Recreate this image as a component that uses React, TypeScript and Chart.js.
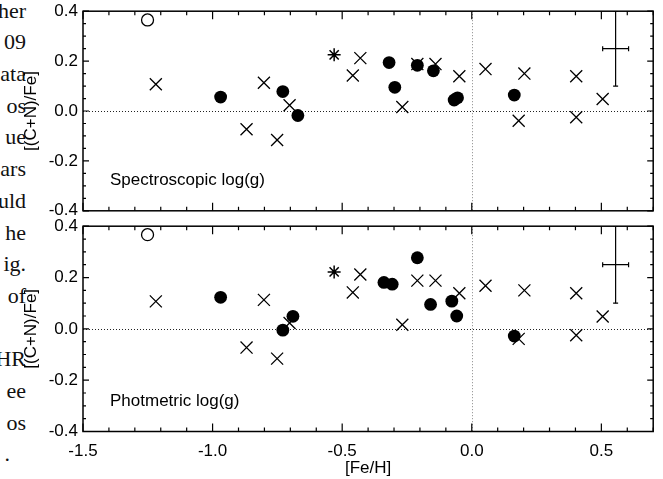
import React, { useEffect, useRef } from 'react';
import { Chart, registerables } from 'chart.js';

Chart.register(...registerables);

// ---------------- data ----------------
// literature stars (crosses) – identical in both panels
const crossFeH = [-1.219, -0.869, -0.802, -0.751, -0.703, -0.459, -0.430, -0.268, -0.210, -0.140, -0.048, 0.053, 0.181, 0.203, 0.403, 0.403, 0.505];
const crossCN = [0.107, -0.073, 0.113, -0.116, 0.023, 0.142, 0.212, 0.016, 0.188, 0.188, 0.139, 0.168, -0.039, 0.150, 0.139, -0.025, 0.048];

// this work, spectroscopic log(g)
const specFeH = [-0.969, -0.729, -0.671, -0.319, -0.297, -0.210, -0.148, -0.068, -0.055, 0.164];
const specCN = [0.056, 0.078, -0.018, 0.194, 0.095, 0.183, 0.161, 0.044, 0.053, 0.064];

// this work, photometric log(g)
const photFeH = [-0.969, -0.729, -0.690, -0.339, -0.307, -0.210, -0.159, -0.077, -0.058, 0.164];
const photCN = [0.123, -0.005, 0.049, 0.181, 0.174, 0.277, 0.095, 0.108, 0.050, -0.028];

// open circle
const openFeH = [-1.251];
const openCNSpec = [0.365];
const openCNPhot = [0.367];

// asterisk
const starFeH = [-0.531];
const starCNSpec = [0.225];
const starCNPhot = [0.222];

// typical error bar
const errFeH = [0.555];
const errCN = [0.25];
const errFeHSize = [0.05];
const errCNSize = [0.15];

// axes
const xMin = -1.5;
const xMax = 0.7;
const xStep = 0.5;
const xMinorPerMajor = 5;
const yMin = -0.4;
const yMax = 0.4;
const yStep = 0.2;
const yMinorPerMajor = 4;

const panelLabels = ['Spectroscopic log(g)', 'Photmetric log(g)'];
const xTitle = '[Fe/H]';
const yTitle = '[(C+N)/Fe]';

// fragments of the surrounding page text (clipped at the left edge)
const pageText = ['her', '09', 'ata', 'os', 'ue', 'ars', 'uld', 'he', 'ig.', 'of', '', 'HR', 'ee', 'os', '.'];

// ---------------- helpers ----------------
const SANS = "'Liberation Sans', Arial, Helvetica, sans-serif";
const FONT = { family: SANS, size: 17 };

const pts = (xs: number[], ys: number[]) => xs.map((x, i) => ({ x, y: ys[i] }));

const decorPlugin = {
  id: 'panelDecor',
  beforeDatasetsDraw(chart: any) {
    const { ctx, chartArea: a, scales } = chart;
    const xs = scales.x;
    const ys = scales.y;
    ctx.save();
    ctx.lineWidth = 1;
    ctx.setLineDash([1, 2]);
    const y0 = Math.round(ys.getPixelForValue(0)) + 0.5;
    ctx.strokeStyle = '#222';
    ctx.beginPath();
    ctx.moveTo(a.left, y0);
    ctx.lineTo(a.right, y0);
    ctx.stroke();
    const x0 = Math.round(xs.getPixelForValue(0)) + 0.5;
    ctx.strokeStyle = '#888';
    ctx.beginPath();
    ctx.moveTo(x0, a.top);
    ctx.lineTo(x0, a.bottom);
    ctx.stroke();
    ctx.restore();
  },
  afterDatasetsDraw(chart: any, _args: any, opts: any) {
    const { ctx, chartArea: a, scales } = chart;
    const xs = scales.x;
    const ys = scales.y;
    ctx.save();
    ctx.strokeStyle = '#000';
    ctx.lineWidth = 1.2;
    // ticks on all four sides, pointing inward
    const xMinor = xStep / xMinorPerMajor;
    const nx0 = Math.ceil(xMin / xMinor - 1e-6);
    const nx1 = Math.floor(xMax / xMinor + 1e-6);
    ctx.beginPath();
    for (let i = nx0; i <= nx1; i++) {
      const px = xs.getPixelForValue(i * xMinor);
      const len = i % xMinorPerMajor === 0 ? 8 : 4;
      ctx.moveTo(px, a.bottom);
      ctx.lineTo(px, a.bottom - len);
      ctx.moveTo(px, a.top);
      ctx.lineTo(px, a.top + len);
    }
    const yMinor = yStep / yMinorPerMajor;
    const ny0 = Math.ceil(yMin / yMinor - 1e-6);
    const ny1 = Math.floor(yMax / yMinor + 1e-6);
    for (let i = ny0; i <= ny1; i++) {
      const py = ys.getPixelForValue(i * yMinor);
      const len = i % yMinorPerMajor === 0 ? 6 : 3;
      ctx.moveTo(a.left, py);
      ctx.lineTo(a.left + len, py);
      ctx.moveTo(a.right, py);
      ctx.lineTo(a.right - len, py);
    }
    ctx.stroke();
    // frame
    ctx.lineWidth = 1.5;
    ctx.strokeRect(a.left, a.top, a.right - a.left, a.bottom - a.top);
    // panel label
    if (opts && opts.label) {
      ctx.fillStyle = '#000';
      ctx.font = `17px ${SANS}`;
      ctx.textAlign = 'left';
      ctx.textBaseline = 'middle';
      ctx.fillText(opts.label, a.left + 27, a.bottom - 30);
    }
    ctx.restore();
  },
};

type PanelProps = {
  feh: number[];
  cn: number[];
  openCN: number[];
  starCN: number[];
  label: string;
  showX: boolean;
  top: number;
  height: number;
  padTop: number;
  padBottom: number;
};

function Panel(p: PanelProps) {
  const ref = useRef<HTMLCanvasElement | null>(null);
  useEffect(() => {
    if (!ref.current) return;
    const black = '#000';
    const errV = errFeH.flatMap((x, i) => [
      { x, y: errCN[i] - errCNSize[i] },
      { x, y: errCN[i] + errCNSize[i] },
    ]);
    const errH = errFeH.flatMap((x, i) => [
      { x: x - errFeHSize[i], y: errCN[i] },
      { x: x + errFeHSize[i], y: errCN[i] },
    ]);
    const chart = new Chart(ref.current, {
      type: 'scatter',
      data: {
        datasets: [
          {
            data: pts(crossFeH, crossCN),
            pointStyle: 'crossRot',
            pointRadius: 8.5,
            borderColor: black,
            backgroundColor: 'transparent',
            borderWidth: 1.3,
          },
          {
            data: pts(p.feh, p.cn),
            pointStyle: 'circle',
            pointRadius: 6.4,
            backgroundColor: black,
            borderColor: black,
            borderWidth: 0,
          },
          {
            data: pts(openFeH, p.openCN),
            pointStyle: 'circle',
            pointRadius: 6,
            backgroundColor: 'transparent',
            borderColor: black,
            borderWidth: 1.3,
          },
          {
            data: pts(starFeH, p.starCN),
            pointStyle: 'star',
            pointRadius: 6.5,
            backgroundColor: 'transparent',
            borderColor: black,
            borderWidth: 1.5,
          },
          {
            data: errV,
            showLine: true,
            borderColor: black,
            borderWidth: 1.2,
            pointStyle: 'line',
            pointRadius: 2.5,
            pointRotation: 0,
            pointBorderColor: black,
            pointBorderWidth: 1.2,
          },
          {
            data: errH,
            showLine: true,
            borderColor: black,
            borderWidth: 1.2,
            pointStyle: 'line',
            pointRadius: 2.5,
            pointRotation: 90,
            pointBorderColor: black,
            pointBorderWidth: 1.2,
          },
        ] as any,
      },
      options: {
        responsive: false,
        animation: false,
        devicePixelRatio: 1,
        events: [],
        layout: { padding: { left: 0, right: 4, top: p.padTop, bottom: p.padBottom } },
        plugins: {
          legend: { display: false },
          tooltip: { enabled: false },
          panelDecor: { label: p.label },
        } as any,
        scales: {
          x: {
            type: 'linear',
            min: xMin,
            max: xMax,
            display: p.showX,
            grid: { display: false, drawTicks: false },
            border: { display: false },
            ticks: {
              stepSize: xStep,
              includeBounds: false,
              padding: 10,
              color: black,
              font: FONT,
              maxRotation: 0,
              autoSkip: false,
              callback: (v: any) => Number(v).toFixed(1),
            },
            title: { display: p.showX, text: xTitle, color: black, font: FONT, padding: 0 },
            afterFit: (s: any) => {
              if (p.showX) s.height = 47.5;
            },
          },
          y: {
            type: 'linear',
            min: yMin,
            max: yMax,
            grid: { display: false, drawTicks: false },
            border: { display: false },
            ticks: {
              stepSize: yStep,
              includeBounds: false,
              padding: 5,
              color: black,
              font: FONT,
              callback: (v: any) => Number(v).toFixed(1),
            },
            title: { display: true, text: yTitle, color: black, font: FONT, padding: { top: 21, bottom: 0 } },
            afterFit: (s: any) => {
              s.width = 83;
            },
          },
        },
      } as any,
      plugins: [decorPlugin],
    });
    return () => chart.destroy();
  }, []);
  return (
    <canvas
      ref={ref}
      width={663}
      height={p.height}
      style={{ position: 'absolute', left: 0, top: p.top, width: 663, height: p.height }}
    />
  );
}

export default function App() {
  return (
    <div
      style={{
        position: 'fixed',
        left: 0,
        top: 0,
        width: 663,
        height: 479,
        overflow: 'hidden',
        background: '#fff',
      }}
    >
      {pageText.map((t, i) => (
        <div
          key={i}
          style={{
            position: 'absolute',
            right: t === '.' ? 653 : 637,
            top: 18 + i * 31.7 - 18.4,
            fontFamily: "'Liberation Serif', 'Times New Roman', serif",
            fontSize: 22,
            lineHeight: '22px',
            whiteSpace: 'nowrap',
            color: '#111',
          }}
        >
          {t}
        </div>
      ))}
      <Panel
        feh={specFeH}
        cn={specCN}
        openCN={openCNSpec}
        starCN={starCNSpec}
        label={panelLabels[0]}
        showX={false}
        top={-4}
        height={230}
        padTop={13.5}
        padBottom={11}
      />
      <Panel
        feh={photFeH}
        cn={photCN}
        openCN={openCNPhot}
        starCN={starCNPhot}
        label={panelLabels[1]}
        showX={true}
        top={211}
        height={268}
        padTop={12}
        padBottom={0}
      />
    </div>
  );
}
